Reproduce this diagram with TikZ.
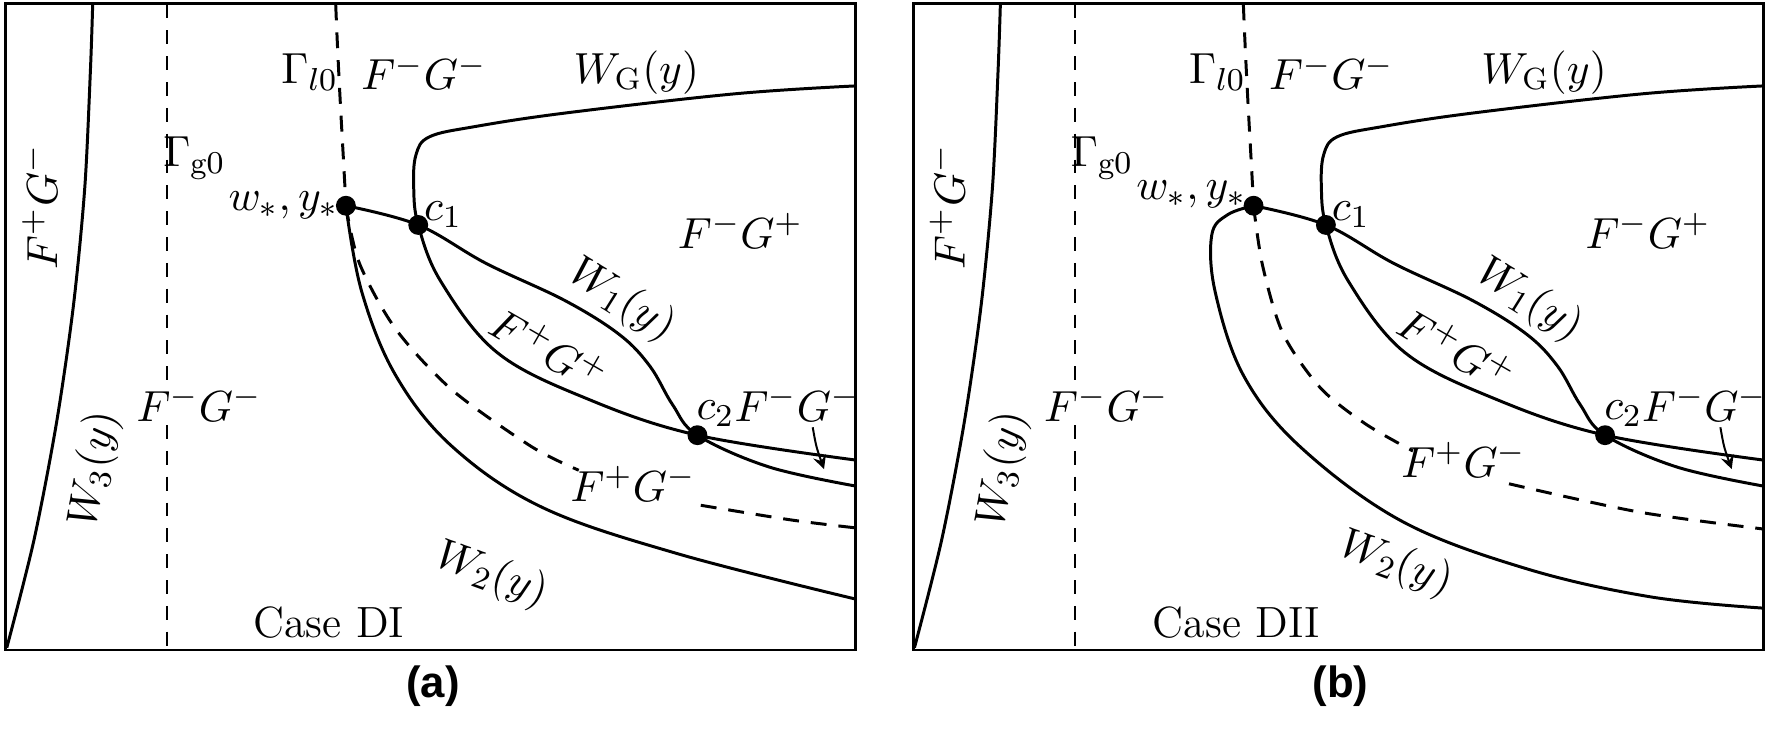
\documentclass[tikz,border=0pt]{standalone}
\usepackage{fontspec}
\newfontfamily\arialb{Liberation Sans}[Scale=1]
\begin{document}
\begin{tikzpicture}[x=0.01cm,y=-0.01cm,
  curve/.style={line width=0.75pt},
  dsh/.style={line width=0.75pt,dash pattern=on 4pt off 3pt},
  thindsh/.style={line width=0.6pt,dash pattern=on 3.5pt off 3pt},
  lbl/.style={font=\fontsize{11}{13}\selectfont,inner sep=0pt},
  dot/.style={circle,fill=black,inner sep=0pt,minimum size=5pt}]
\useasboundingbox (0,0) rectangle (1565,648);
\foreach \dx/\case/\pl/\loop/\wsy in {0/DI/a/0/182,803/DII/b/1/172}{
\begin{scope}[xshift=\dx*0.01cm]
  \draw[line width=0.6pt] (5,3) rectangle (757,575);
  \node[dot] (ws) at (306,182) {};
  \node[dot] (c1) at (370,199) {};
  \node[dot] (c2) at (617,385) {};
  % W3
  \draw[curve] plot[smooth] coordinates {(6,573)(30,478)(50,374)(65,270)(75,166)(80,62)(82,4)};
  % Gamma g0
  \draw[thindsh] (148,4) -- (148,340);
  \draw[thindsh] (148,376) -- (148,575);
  % Gamma l0
  \draw[dsh] (297,4) .. controls (300,80) and (304,140) .. (ws.center);
  % W1
  \draw[curve] plot[smooth,tension=0.6] coordinates {(ws.center)(370,199)(430,233)(500,266)(548,296)(575,324)(595,358)(617,385)(680,413)(757,430)};
  % WG
  \draw[curve] plot[smooth,tension=0.6] coordinates {(757,76)(650,83)(500,100)(420,112)(380,121)(368,137)(366,166)(370,199)(390,249)(440,312)(520,353)(617,385)(757,407)};
  \ifnum\loop=0
    \draw[curve] plot[smooth,tension=0.6] coordinates {(ws.center)(320,258)(350,332)(400,395)(480,449)(600,490)(757,530)};
    \draw[dsh] plot[smooth] coordinates {(ws.center)(318,233)(350,291)(400,345)(470,395)(512,416)};
    \draw[dsh] plot[smooth] coordinates {(620,447)(700,460)(757,467)};
    \node[lbl] (fpgm) at (560,428) {$F^+G^-$};
    \node[lbl] (w2) at (435,509) [rotate=-20] {$W_2(y)$};
  \else
    \draw[curve] plot[smooth,tension=0.6] coordinates {(ws.center)(283,190)(269,208)(272,258)(297,332)(347,395)(437,461)(547,503)(657,528)(757,538)};
    \draw[dsh] plot[smooth] coordinates {(ws.center)(314,235)(332,295)(365,343)(405,375)(447,399)};
    \draw[dsh] plot[smooth] coordinates {(532,428)(647,453)(757,468)};
    \node[lbl] (fpgm) at (492,407) {$F^+G^-$};
    \node[lbl] (w2) at (432,499) [rotate=-20] {$W_2(y)$};
  \fi
  % labels
  \node[lbl] (l1) at (35,183) [rotate=90] {$F^+G^-$};
  \node[lbl] (l2) at (84,415) [rotate=80] {$W_3(y)$};
  \node[lbl] (l3) at (172,140) {$\Gamma_{\mathrm{g}0}$};
  \node[lbl] (l4) at (176,357) {$F^-G^-$};
  \node[lbl] (l5) at (274,64) {$\Gamma_{l0}$};
  \node[lbl] (l6) at (375,64) {$F^-G^-$};
  \node[lbl] (l7) at (563,64) {$W_{\mathrm{G}}(y)$};
  \node[lbl,anchor=east] (l8) at (300,\wsy) {$w_*,y_*$};
  \node[lbl] (l9) at (392,190) {$c_1$};
  \node[lbl] (l10) at (655,204) {$F^-G^+$};
  \node[lbl] (l11) at (550,266) [rotate=-32] {$W_1(y)$};
  \node[lbl] (l12) at (486,308) [rotate=-30] {$F^+G^+$};
  \node[lbl] (l13) at (633,366) {$c_2$};
  \node[lbl] (l14) at (705,357) {$F^-G^-$};
  \coordinate (ae) at (729,415);
  \draw[line width=0.5pt,-stealth] (719,378) .. controls (722,395) .. (ae);
  \node[lbl,font=\fontsize{11}{13}\selectfont\rmfamily] (cs) at (291,551) {Case \case};
  \node[font=\arialb\bfseries\fontsize{11}{13}\selectfont] (pl) at (383,607) {(\pl)};
\end{scope}}
\end{tikzpicture}
\end{document}
